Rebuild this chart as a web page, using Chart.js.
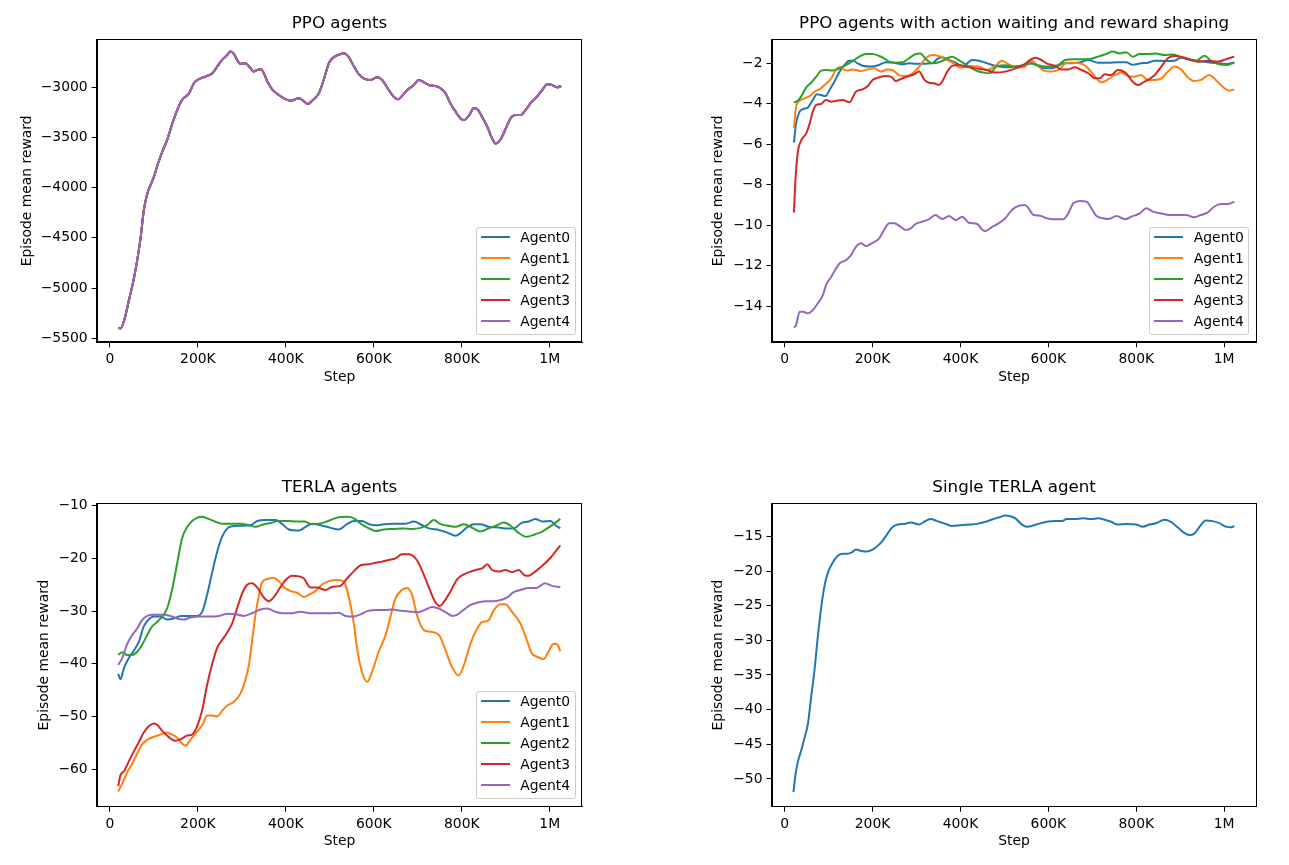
<!DOCTYPE html>
<html>
<head>
<meta charset="utf-8">
<script src="https://cdn.jsdelivr.net/npm/chart.js@4.4.1/dist/chart.umd.min.js"></script>
<style>
  html, body { margin: 0; padding: 0; background: #ffffff; }
  body { width: 1289px; height: 865px; position: relative; overflow: hidden; font-family: "DejaVu Sans", sans-serif; }
  canvas { position: absolute; }
  .legend { position: absolute; width: 98px; height: 106px; border: 1px solid #cccccc; border-radius: 3px;
            background: rgba(255,255,255,0.8); font-family: "DejaVu Sans", sans-serif; font-size: 13.9px; color: #000; }
  .legend .row { position: absolute; left: 0; width: 100%; height: 20px; }
  .legend .sw { position: absolute; left: 4px; top: 9px; width: 29px; height: 2px; }
  .legend .lbl { position: absolute; left: 43.5px; top: 0; line-height: 20px; white-space: nowrap; }
</style>
</head>
<body>
<canvas id="c1" width="645" height="432" style="left:0px;top:0px"></canvas>
<canvas id="c2" width="644" height="432" style="left:645px;top:0px"></canvas>
<canvas id="c3" width="645" height="433" style="left:0px;top:432px"></canvas>
<canvas id="c4" width="644" height="433" style="left:645px;top:432px"></canvas>
<script>
// ---------------- DATA ----------------
const agentNames = ["Agent0", "Agent1", "Agent2", "Agent3", "Agent4"];
const stepTicksK = [0, 200, 400, 600, 800, 1000];   // steps in thousands
const ppoYTicks = [-5500, -5000, -4500, -4000, -3500, -3000];
const shapedYTicks = [-14, -12, -10, -8, -6, -4, -2];
const terlaYTicks = [-60, -50, -40, -30, -20, -10];
const singleYTicks = [-50, -45, -40, -35, -30, -25, -20, -15];

// PPO agents (all five agents have identical curves)
const ppoStepsK = [19,24,32,43,55,62,70,77,85,92,100,108,119,130,142,153,164,180,191,202,217,233,244,255,267,274,282,289,297,308,318,327,335,344,350,358,369,384,399,411,430,442,450,460,475,486,498,509,520,532,541,555,566,577,592,608,619,634,645,655,664,676,691,702,714,725,744,752,763,774,786,797,805,817,827,835,846,858,869,877,888,899,911,922,933,945,956,971,983,994,1005,1017,1026];
const ppoReward = [-5393,-5403,-5327,-5127,-4893,-4727,-4493,-4227,-4060,-3977,-3893,-3777,-3643,-3527,-3360,-3227,-3127,-3060,-2960,-2920,-2893,-2860,-2793,-2727,-2677,-2643,-2667,-2727,-2767,-2760,-2800,-2843,-2827,-2820,-2860,-2943,-3020,-3077,-3117,-3133,-3110,-3143,-3167,-3133,-3060,-2927,-2760,-2700,-2677,-2660,-2687,-2793,-2870,-2910,-2927,-2900,-2927,-3027,-3093,-3120,-3087,-3027,-2977,-2927,-2950,-2977,-2993,-3010,-3060,-3160,-3243,-3310,-3327,-3277,-3210,-3217,-3293,-3393,-3510,-3560,-3520,-3420,-3310,-3277,-3277,-3227,-3160,-3093,-3027,-2970,-2977,-3000,-2987];

// PPO agents with action waiting and reward shaping
const shaped0StepsK = [21,26,34,42,53,64,73,83,93,102,113,125,136,147,156,166,177,196,215,230,249,268,283,298,317,336,347,358,374,389,404,415,426,442,457,472,487,506,525,547,562,577,592,608,619,634,653,672,691,713,736,758,777,792,811,826,842,864,887,902,917,940,962,985,1004,1023];
const shaped0Reward = [-5.92,-4.97,-4.39,-4.26,-4.18,-3.81,-3.53,-3.57,-3.62,-3.32,-2.91,-2.41,-2.08,-1.87,-1.87,-2.0,-2.12,-2.16,-2.08,-1.95,-1.97,-2.05,-2.0,-2.02,-2.02,-2.0,-1.79,-1.70,-1.84,-1.97,-2.13,-2.0,-1.84,-1.87,-1.97,-2.08,-2.16,-2.2,-2.16,-2.08,-2.0,-2.13,-2.25,-2.25,-2.16,-2.0,-2.0,-1.95,-1.84,-1.97,-1.97,-1.95,-1.95,-2.07,-2.0,-1.97,-1.87,-1.88,-1.87,-1.72,-1.79,-1.88,-1.95,-2.0,-2.03,-1.97];
const shaped1StepsK = [21,26,34,45,57,68,79,91,106,117,126,140,155,174,189,204,219,234,245,260,275,291,306,321,336,351,370,385,400,419,442,460,479,494,506,525,543,562,574,589,608,623,642,660,679,694,709,721,736,751,766,781,796,811,826,842,857,872,887,902,917,932,947,966,981,996,1011,1023];
const shaped1Reward = [-5.21,-4.14,-3.85,-3.73,-3.62,-3.40,-3.29,-3.07,-2.74,-2.30,-2.20,-2.36,-2.30,-2.38,-2.30,-2.25,-2.41,-2.30,-2.33,-2.58,-2.63,-2.49,-2.16,-1.75,-1.59,-1.64,-1.84,-2.0,-2.21,-2.13,-2.16,-2.33,-2.13,-1.87,-2.0,-2.2,-2.2,-1.87,-2.08,-2.36,-2.41,-2.33,-1.97,-1.97,-2.05,-2.33,-2.74,-2.94,-2.79,-2.58,-2.46,-2.63,-2.66,-2.58,-2.82,-2.82,-2.74,-2.41,-2.16,-2.30,-2.69,-2.87,-2.82,-2.58,-2.82,-3.15,-3.35,-3.29];
const shaped2StepsK = [21,30,38,49,60,72,83,94,109,125,140,155,170,185,200,215,226,238,253,268,283,298,309,321,336,351,370,381,392,408,423,438,453,468,483,502,521,540,558,574,592,611,623,638,657,675,694,713,732,747,762,777,792,808,826,845,864,883,898,917,936,955,970,989,1008,1023];
const shaped2Reward = [-3.93,-3.85,-3.62,-3.19,-2.96,-2.66,-2.36,-2.33,-2.36,-2.25,-2.08,-1.88,-1.67,-1.54,-1.54,-1.64,-1.75,-1.92,-1.97,-1.95,-1.75,-1.54,-1.51,-1.79,-2.0,-1.95,-1.75,-1.67,-1.79,-2.0,-2.21,-2.38,-2.46,-2.49,-2.13,-2.10,-2.16,-2.13,-2.0,-2.08,-2.16,-2.13,-2.08,-1.84,-1.80,-1.80,-1.79,-1.67,-1.54,-1.42,-1.51,-1.45,-1.67,-1.54,-1.54,-1.51,-1.59,-1.56,-1.67,-1.80,-1.87,-1.62,-1.87,-2.05,-2.08,-1.95];
const shaped3StepsK = [21,25,30,38,49,57,64,72,83,94,106,117,132,147,162,177,189,200,215,230,242,253,268,283,294,306,317,328,340,351,358,370,381,396,411,434,460,479,502,525,543,558,570,581,596,615,630,645,660,675,691,706,717,728,743,758,777,792,804,815,826,842,857,872,887,906,925,940,962,985,1004,1023];
const shaped3Reward = [-9.38,-7.60,-6.37,-5.79,-5.46,-4.97,-4.39,-4.06,-4.01,-3.81,-3.90,-3.86,-3.81,-3.93,-3.40,-3.29,-3.12,-2.82,-2.69,-2.63,-2.66,-2.87,-2.74,-2.63,-2.54,-2.41,-2.79,-2.96,-2.99,-3.07,-2.91,-2.41,-2.13,-2.08,-2.16,-2.25,-2.33,-2.46,-2.41,-2.25,-2.08,-1.84,-1.72,-1.80,-2.0,-2.13,-2.30,-2.30,-2.20,-2.33,-2.49,-2.74,-2.74,-2.54,-2.58,-2.33,-2.49,-2.91,-3.07,-2.96,-2.82,-2.58,-2.16,-1.75,-1.64,-1.70,-1.84,-1.92,-1.87,-1.92,-1.80,-1.67];
const shaped4StepsK = [21,26,34,42,53,64,75,87,94,106,117,125,140,151,162,174,185,200,215,226,238,249,264,275,287,298,313,328,343,358,374,389,404,419,438,449,457,472,487,502,517,532,546,555,566,581,596,611,634,645,657,672,687,698,709,725,736,755,774,789,808,823,838,857,875,894,913,932,947,962,977,992,1008,1023];
const shaped4Reward = [-15.07,-14.94,-14.28,-14.28,-14.36,-14.20,-13.87,-13.46,-12.96,-12.55,-12.14,-11.89,-11.72,-11.48,-11.07,-10.90,-11.03,-10.87,-10.65,-10.24,-9.91,-9.91,-10.08,-10.24,-10.16,-9.94,-9.83,-9.71,-9.50,-9.70,-9.55,-9.75,-9.58,-9.88,-9.94,-10.21,-10.29,-10.08,-9.91,-9.66,-9.25,-9.05,-9.0,-9.17,-9.50,-9.53,-9.66,-9.71,-9.71,-9.42,-8.92,-8.81,-8.84,-9.17,-9.53,-9.66,-9.70,-9.55,-9.71,-9.58,-9.42,-9.17,-9.33,-9.42,-9.50,-9.50,-9.50,-9.61,-9.50,-9.38,-9.09,-8.96,-8.96,-8.84];

// TERLA agents
const terla0StepsK = [19,24,32,43,55,66,77,89,100,115,130,145,161,183,198,210,221,233,244,255,267,278,297,320,335,354,377,392,407,430,445,460,479,502,520,539,555,573,589,604,623,645,672,691,710,725,748,767,786,797,812,827,842,861,880,899,918,937,952,967,983,1002,1013,1024];
const terla0Reward = [-41.9,-42.9,-40.8,-38.9,-37.4,-35.8,-32.9,-31.5,-31.0,-31.0,-31.6,-31.4,-30.9,-30.9,-30.9,-30.1,-26.9,-22.5,-18.7,-15.9,-14.3,-13.9,-13.8,-13.7,-12.9,-12.7,-12.7,-13.5,-14.5,-14.7,-14.0,-13.4,-13.7,-14.2,-14.5,-13.5,-12.9,-12.9,-13.5,-13.7,-13.5,-13.4,-13.4,-13.0,-13.7,-14.3,-14.6,-15.1,-15.7,-15.2,-14.1,-13.5,-13.5,-14.0,-14.1,-14.3,-14.3,-13.2,-13.0,-12.5,-13.0,-12.9,-13.7,-14.3];
const terla1StepsK = [19,28,39,51,62,73,85,100,115,127,142,153,164,172,183,198,210,221,233,244,255,267,282,297,308,316,323,331,339,346,358,373,384,395,411,426,441,452,467,483,498,517,532,543,555,562,573,585,596,611,627,638,649,664,676,687,698,714,729,748,763,779,793,805,820,835,846,861,873,888,899,914,933,948,959,970,986,997,1009,1017,1024];
const terla1Reward = [-64.2,-62.7,-60.6,-58.9,-57.0,-55.3,-54.4,-53.8,-53.4,-53.0,-53.4,-54.0,-55.1,-55.5,-54.4,-52.9,-51.6,-49.8,-49.8,-50.0,-48.9,-47.9,-47.2,-45.6,-43.1,-40.2,-35.8,-30.7,-26.9,-24.5,-23.9,-23.7,-24.3,-25.4,-26.2,-26.5,-27.3,-26.9,-26.2,-24.9,-24.3,-24.1,-24.4,-27.3,-32.6,-37.1,-41.5,-43.4,-41.5,-37.7,-34.5,-31.0,-27.6,-26.0,-25.6,-26.9,-30.7,-33.6,-33.9,-34.5,-37.4,-40.8,-42.2,-40.2,-36.1,-33.3,-32.1,-31.7,-29.8,-28.7,-28.7,-30.1,-32.3,-35.5,-38.0,-38.6,-39.1,-37.7,-36.2,-36.3,-37.6];
const terla2StepsK = [19,28,39,51,62,73,85,96,108,119,130,142,153,164,176,187,198,210,221,236,255,274,297,316,331,350,369,380,403,426,441,460,486,502,520,539,555,570,589,604,623,645,668,687,706,721,736,752,771,786,805,824,842,861,880,895,911,930,948,967,983,998,1013,1024];
const terla2Reward = [-38.3,-37.8,-38.3,-38.3,-37.7,-36.4,-34.5,-32.9,-32.0,-31.0,-29.5,-25.7,-20.9,-16.2,-14.0,-12.9,-12.3,-12.1,-12.4,-12.9,-13.4,-13.4,-13.4,-13.7,-14.0,-13.5,-13.2,-12.9,-12.9,-13.0,-13.0,-13.5,-13.2,-12.7,-12.2,-12.1,-12.4,-13.4,-14.3,-14.8,-14.5,-14.4,-14.3,-14.4,-14.2,-13.7,-12.7,-13.5,-13.8,-14.0,-13.5,-14.2,-14.9,-14.3,-13.7,-13.2,-13.8,-15.2,-15.9,-15.4,-14.9,-14.1,-13.2,-12.5];
const terla3StepsK = [19,24,32,43,55,66,77,89,100,108,119,134,149,161,176,187,198,210,221,233,244,255,267,278,289,301,312,323,335,350,361,373,388,403,414,430,441,456,471,490,505,524,539,555,570,589,604,619,634,649,664,680,695,706,717,729,740,750,759,774,789,805,820,835,846,858,869,884,899,914,930,941,952,967,983,998,1013,1024];
const terla3Reward = [-63.2,-61.1,-60.4,-58.5,-56.5,-54.8,-53.0,-51.8,-51.3,-51.6,-52.7,-53.9,-54.6,-54.3,-53.6,-53.4,-51.9,-48.7,-44.0,-39.9,-36.9,-35.5,-34.0,-32.3,-29.5,-26.6,-25.0,-24.7,-25.5,-27.4,-28.1,-27.3,-25.4,-23.8,-23.3,-23.4,-23.8,-25.5,-25.5,-26.0,-25.4,-25.2,-23.8,-22.4,-21.3,-21.1,-20.8,-20.6,-20.3,-20.0,-19.2,-19.2,-20.0,-21.6,-23.8,-26.3,-28.3,-29.0,-28.3,-26.3,-24.0,-23.0,-22.5,-22.1,-21.9,-21.1,-22.2,-22.5,-22.2,-22.6,-22.2,-23.1,-23.3,-22.5,-21.4,-20.2,-18.7,-17.5];
const terla4StepsK = [19,28,39,51,62,73,85,100,119,138,153,168,183,206,229,248,267,286,305,323,342,358,373,392,414,433,456,479,502,520,536,555,570,585,608,627,642,661,683,702,717,733,748,763,779,789,805,820,839,854,873,892,903,918,933,952,970,989,1005,1024];
const terla4Reward = [-40.2,-38.9,-36.3,-34.5,-33.3,-31.7,-30.9,-30.7,-30.7,-30.9,-31.4,-31.6,-31.2,-31.0,-31.0,-30.9,-30.5,-30.6,-30.9,-30.4,-29.7,-29.5,-30.0,-30.4,-30.4,-30.1,-30.4,-30.4,-30.4,-30.3,-30.9,-31.0,-30.6,-30.0,-29.8,-29.8,-29.7,-29.9,-30.1,-30.2,-29.7,-29.2,-29.5,-30.2,-30.9,-30.7,-29.7,-28.8,-28.3,-28.1,-28.1,-27.8,-27.4,-26.4,-26.0,-25.6,-25.6,-24.7,-25.2,-25.4];

// Single TERLA agent
const singleStepsK = [20,25,30,38,45,53,60,68,75,83,91,98,109,121,132,143,153,162,174,185,200,211,223,234,245,257,272,287,306,317,332,347,366,381,400,419,438,457,475,491,502,513,525,540,551,562,577,596,615,630,642,660,679,698,713,728,743,758,777,800,815,830,845,864,879,894,909,921,932,943,958,974,989,1004,1015,1023];
const singleReward = [-51.9,-49.2,-47.5,-45.8,-44.1,-42.0,-38.3,-34.2,-29.7,-25.3,-22.0,-20.3,-18.8,-17.8,-17.5,-17.5,-17.3,-16.9,-17.1,-17.2,-16.9,-16.4,-15.6,-14.6,-13.7,-13.3,-13.2,-13.0,-13.3,-12.9,-12.5,-12.8,-13.2,-13.5,-13.4,-13.3,-13.2,-12.9,-12.5,-12.2,-12.0,-12.1,-12.4,-13.3,-13.6,-13.5,-13.2,-12.9,-12.8,-12.8,-12.5,-12.5,-12.4,-12.5,-12.4,-12.6,-12.9,-13.3,-13.2,-13.3,-13.6,-13.3,-13.1,-12.6,-12.9,-13.7,-14.5,-14.8,-14.6,-13.7,-12.7,-12.8,-13.1,-13.6,-13.7,-13.5];

// ---------------- STYLE / LAYOUT ----------------
const FONT = "'DejaVu Sans', sans-serif";
const COLORS = ["#1f77b4", "#ff7f0e", "#2ca02c", "#d62728", "#9467bd"];
const TICK_FS = 13.9, TITLE_FS = 16.7;
const LBL_LH = TICK_FS * 1.2, TTL_LH = TITLE_FS * 1.2;

const geoms = {
  c1: {cL: 0,   cT: 0,   cW: 645, cH: 432, pL: 96.7,  pT: 39.3,  pR: 582.3,  pB: 342.3, yLabX: 27,  titleY: 24,  stepY: 377},
  c2: {cL: 645, cT: 0,   cW: 644, cH: 432, pL: 771.5, pT: 39.3,  pR: 1256.7, pB: 342.3, yLabX: 718, titleY: 24,  stepY: 377},
  c3: {cL: 0,   cT: 432, cW: 645, cH: 433, pL: 96.7,  pT: 503.3, pR: 582.3,  pB: 806.7, yLabX: 44,  titleY: 488, stepY: 841},
  c4: {cL: 645, cT: 432, cW: 644, cH: 433, pL: 771.5, pT: 503.3, pR: 1256.7, pB: 806.7, yLabX: 718, titleY: 488, stepY: 841}
};

function fmtMinus(v) { return v < 0 ? "\u2212" + Math.abs(v) : String(v); }
function fmtStep(v) { return v === 0 ? "0" : (v >= 1000 ? (v / 1000) + "M" : v + "K"); }

const framePlugin = {
  id: 'frame',
  afterDraw(chart) {
    const a = chart.chartArea, ctx = chart.ctx;
    ctx.save();
    ctx.strokeStyle = '#000'; ctx.lineWidth = 1;
    const l = Math.round(a.left) + 0.5, t = Math.round(a.top) + 0.5, r = Math.round(a.right) - 0.5, b = Math.round(a.bottom) - 0.5;
    ctx.strokeRect(l, t, r - l, b - t);
    ctx.restore();
  }
};

function series(stepsK, rewards) { return stepsK.map((s, i) => ({x: s, y: rewards[i]})); }

function makeDatasets(list) {
  return list.map((d, i) => ({
    label: d.label, data: d.data, borderColor: d.color, backgroundColor: d.color,
    borderWidth: 2, pointRadius: 0, fill: false, cubicInterpolationMode: 'monotone',
    order: list.length - i
  }));
}

function makeChart(id, title, datasets, yMin, yMax, yTicks) {
  const g = geoms[id];
  const titlePadTop = (g.titleY - g.cT) - TTL_LH / 2;
  const titlePadBottom = (g.pT - g.cT) - titlePadTop - TTL_LH;
  return new Chart(document.getElementById(id), {
    type: 'line',
    data: { datasets },
    plugins: [framePlugin],
    options: {
      responsive: false, animation: false, devicePixelRatio: 1,
      layout: { padding: { left: 0, top: 0, right: (g.cL + g.cW) - g.pR, bottom: 0 } },
      plugins: {
        legend: { display: false },
        tooltip: { enabled: false },
        title: { display: true, text: title, color: '#000', fullSize: false,
                 font: { family: FONT, size: TITLE_FS, weight: 'normal', lineHeight: 1.2 },
                 padding: { top: titlePadTop, bottom: titlePadBottom } }
      },
      scales: {
        x: {
          type: 'linear', min: -30, max: 1074,
          afterBuildTicks: s => { s.ticks = stepTicksK.map(v => ({ value: v })); },
          afterFit: s => { s.height = (g.cT + g.cH) - g.pB; },
          ticks: { autoSkip: false, maxRotation: 0, minRotation: 0, padding: 4, color: '#000',
                   font: { family: FONT, size: TICK_FS }, callback: v => fmtStep(v) },
          grid: { drawOnChartArea: false, drawTicks: true, tickLength: 5, color: '#000', lineWidth: 1 },
          border: { display: true, color: '#000', width: 1 },
          title: { display: true, text: 'Step', color: '#000', font: { family: FONT, size: TICK_FS, lineHeight: 1.2 },
                   padding: { top: 0, bottom: (g.cT + g.cH) - g.stepY - LBL_LH / 2 } }
        },
        y: {
          type: 'linear', min: yMin, max: yMax,
          afterBuildTicks: s => { s.ticks = yTicks.map(v => ({ value: v })); },
          afterFit: s => { s.width = g.pL - g.cL; },
          ticks: { autoSkip: false, padding: 4, color: '#000',
                   font: { family: FONT, size: TICK_FS }, callback: v => fmtMinus(v) },
          grid: { drawOnChartArea: false, drawTicks: true, tickLength: 5, color: '#000', lineWidth: 1 },
          border: { display: true, color: '#000', width: 1 },
          title: { display: true, text: 'Episode mean reward', color: '#000', font: { family: FONT, size: TICK_FS, lineHeight: 1.2 },
                   padding: { top: g.yLabX - g.cL - LBL_LH / 2, bottom: 0 } }
        }
      }
    }
  });
}

function addLegend(datasets, left, top) {
  const box = document.createElement('div');
  box.className = 'legend';
  box.style.left = left + 'px'; box.style.top = top + 'px';
  const ordered = datasets.slice().sort((a, b) => agentNames.indexOf(a.label) - agentNames.indexOf(b.label));
  ordered.forEach((d, i) => {
    const row = document.createElement('div');
    row.className = 'row';
    row.style.top = (10.6 + i * 20.85 - 10 - 1) + 'px';
    const sw = document.createElement('div'); sw.className = 'sw'; sw.style.background = d.borderColor;
    const lbl = document.createElement('div'); lbl.className = 'lbl'; lbl.textContent = d.label;
    row.appendChild(sw); row.appendChild(lbl); box.appendChild(row);
  });
  document.body.appendChild(box);
}

// ---------------- CHARTS ----------------
const ds1 = makeDatasets(agentNames.map((n, i) => ({ label: n, color: COLORS[i], data: series(ppoStepsK, ppoReward) })));
const ds2 = makeDatasets([
  { label: agentNames[0], color: COLORS[0], data: series(shaped0StepsK, shaped0Reward) },
  { label: agentNames[1], color: COLORS[1], data: series(shaped1StepsK, shaped1Reward) },
  { label: agentNames[2], color: COLORS[2], data: series(shaped2StepsK, shaped2Reward) },
  { label: agentNames[3], color: COLORS[3], data: series(shaped3StepsK, shaped3Reward) },
  { label: agentNames[4], color: COLORS[4], data: series(shaped4StepsK, shaped4Reward) }
]);
const ds3 = makeDatasets([
  { label: agentNames[0], color: COLORS[0], data: series(terla0StepsK, terla0Reward) },
  { label: agentNames[1], color: COLORS[1], data: series(terla1StepsK, terla1Reward) },
  { label: agentNames[2], color: COLORS[2], data: series(terla2StepsK, terla2Reward) },
  { label: agentNames[3], color: COLORS[3], data: series(terla3StepsK, terla3Reward) },
  { label: agentNames[4], color: COLORS[4], data: series(terla4StepsK, terla4Reward) }
]);
const ds4 = makeDatasets([{ label: 'Agent0', color: COLORS[0], data: series(singleStepsK, singleReward) }]);

makeChart('c1', 'PPO agents', ds1, -5540, -2522, ppoYTicks);
makeChart('c2', 'PPO agents with action waiting and reward shaping', ds2, -15.79, -0.813, shapedYTicks);
makeChart('c3', 'TERLA agents', ds3, -67.09, -9.54, terlaYTicks);
makeChart('c4', 'Single TERLA agent', ds4, -54.0, -10.23, singleYTicks);

addLegend(ds1, 475.7, 226.7);
addLegend(ds2, 1149.3, 226.7);
addLegend(ds3, 475.7, 690.7);
</script>
</body>
</html>
